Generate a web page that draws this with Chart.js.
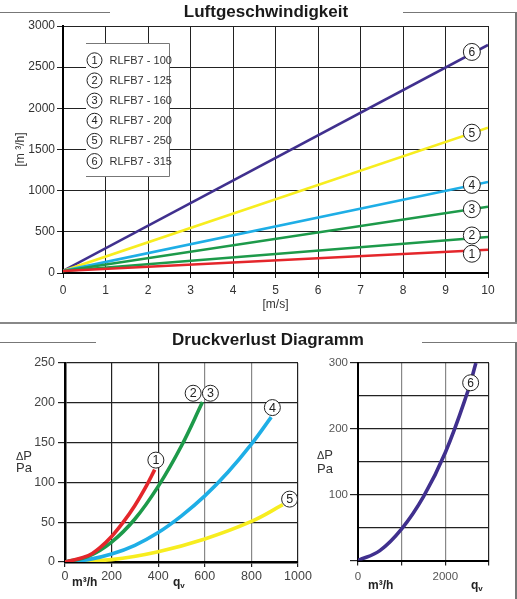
<!DOCTYPE html>
<html><head><meta charset="utf-8">
<script src="https://cdn.jsdelivr.net/npm/chart.js@4.4.0/dist/chart.umd.min.js"></script>
<style>
html,body{margin:0;padding:0;background:#fff;}
#wrap{position:relative;width:517px;height:599px;overflow:hidden;font-family:"Liberation Sans",Arial,sans-serif;}
canvas{position:absolute;}
.t{position:absolute;white-space:nowrap;}
.title{font-weight:bold;font-size:17px;color:#1a1a1a;text-align:center;width:300px;height:24px;line-height:24px;}
.ln{position:absolute;background:#777;}
.lab{font-size:13px;color:#333;text-align:right;}
.unit{font-weight:bold;font-size:12px;color:#222;line-height:14px;}
</style></head>
<body><div id="wrap">
<canvas id="c1" width="517" height="330" style="left:0;top:0"></canvas>
<canvas id="c2" width="330" height="269" style="left:0;top:330px"></canvas>
<canvas id="c3" width="217" height="269" style="left:300px;top:330px"></canvas>

<div class="ln" style="left:0;top:12px;width:110px;height:1px"></div>
<div class="ln" style="left:403px;top:12px;width:114px;height:1px"></div>
<div class="ln" style="left:515px;top:12px;width:1.5px;height:311px"></div>
<div class="ln" style="left:0;top:322px;width:517px;height:2px;background:#888"></div>
<div class="ln" style="left:0;top:342px;width:96px;height:1px"></div>
<div class="ln" style="left:422px;top:342px;width:95px;height:1px"></div>
<div class="ln" style="left:515px;top:342px;width:1.5px;height:257px"></div>

<div class="t title" style="left:116px;top:0">Luftgeschwindigkeit</div>
<div class="t title" style="left:118px;top:328px">Druckverlust Diagramm</div>

<div class="t lab" style="left:0;top:450px;width:32px;line-height:12px"><span style="font-size:11px">Δ</span>P<br>Pa</div>
<div class="t lab" style="left:283px;top:448px;width:50px;line-height:13px"><span style="font-size:11px">Δ</span>P<br>Pa</div>
<div class="t unit" style="left:72px;top:575px">m³/h</div>
<div class="t unit" style="left:173px;top:575px">q<sub style="font-size:8px;vertical-align:-2px">v</sub></div>
<div class="t unit" style="left:368px;top:578px">m³/h</div>
<div class="t unit" style="left:471px;top:578px">q<sub style="font-size:8px;vertical-align:-2px">v</sub></div>
</div>
<script>
// ---------- Data: Luftgeschwindigkeit ----------
const velocity = [0, 10];
const flowRLFB7_100 = [25, 282];
const flowRLFB7_125 = [25, 438];
const flowRLFB7_160 = [25, 805];
const flowRLFB7_200 = [25, 1105];
const flowRLFB7_250 = [25, 1765];
const flowRLFB7_315 = [25, 2770];
const seriesNames = ['RLFB7 - 100', 'RLFB7 - 125', 'RLFB7 - 160', 'RLFB7 - 200', 'RLFB7 - 250', 'RLFB7 - 315'];
const seriesNumbers = ['1', '2', '3', '4', '5', '6'];
const velocityTickLabels = ['0', '1', '2', '3', '4', '5', '6', '7', '8', '9', '10'];
const flowTickLabels = ['0', '500', '1000', '1500', '2000', '2500', '3000'];
const labelVelocity = [9.62, 9.62, 9.62, 9.62, 9.62, 9.62];
const labelFlow = [234, 456, 775, 1070, 1704, 2685];

// ---------- Data: Druckverlust (left) ----------
const q1 = [0, 100, 150, 200, 250, 300, 350, 385];
const dp1 = [0, 8, 18, 32, 50, 71, 96, 116];
const q23 = [0, 100, 200, 300, 400, 500, 590];
const dp23 = [0, 7, 25, 54, 95, 146, 201];
const q4 = [0, 100, 200, 300, 400, 500, 600, 700, 800, 885];
const dp4 = [0, 3, 10, 21, 37, 58, 83, 113, 148, 182];
const q5 = [0, 200, 400, 600, 800, 935];
const dp5 = [0, 3, 13, 29, 51, 72];
const leftXTickLabels = ['0', '200', '400', '600', '800', '1000'];
const leftYTickLabels = ['0', '50', '100', '150', '200', '250'];
const leftLabelQ = [390, 550, 624, 890, 964];
const leftLabelDp = [128, 212, 212, 194, 79];
const leftLabelText = ['1', '2', '3', '4', '5'];

// ---------- Data: Druckverlust (right) ----------
const q6 = [0, 500, 1000, 1500, 2000, 2500, 2700];
const dp6 = [0, 15, 48, 97, 164, 254, 300];
const rightXTickLabels = ['0', '', '2000', ''];
const rightYTickLabels = ['', '', '100', '', '200', '', '300'];
const rightLabelQ = [2580];
const rightLabelDp = [270];
const rightLabelText = ['6'];

// ---------- Styles ----------
const FONT = '"Liberation Sans", Arial, sans-serif';
const NARROW = '"Liberation Sans Narrow", "Liberation Sans", Arial, sans-serif';
const cRed = '#e4262b', cGreen = '#1d9a4a', cBlue = '#1eaee6', cYellow = '#f7ed1f', cPurple = '#40308e';
const topColors = [cRed, cGreen, cGreen, cBlue, cYellow, cPurple];

const pts = (xs, ys) => xs.map((x, i) => ({x: x, y: ys[i]}));

function circleLabelsPlugin(xs, ys, texts, radius, fontSize) {
  return {
    id: 'circleLabels',
    afterDatasetsDraw(chart) {
      const ctx = chart.ctx, sx = chart.scales.x, sy = chart.scales.y;
      texts.forEach((t, i) => {
        const px = sx.getPixelForValue(xs[i]), py = sy.getPixelForValue(ys[i]);
        ctx.save();
        ctx.beginPath(); ctx.arc(px, py, radius, 0, Math.PI * 2);
        ctx.fillStyle = '#fff'; ctx.fill();
        ctx.lineWidth = 1; ctx.strokeStyle = '#222'; ctx.stroke();
        ctx.fillStyle = '#222'; ctx.font = fontSize + 'px ' + FONT;
        ctx.textAlign = 'center'; ctx.textBaseline = 'middle';
        ctx.fillText(t, px, py + 0.5);
        ctx.restore();
      });
    }
  };
}

const legendPlugin = {
  id: 'boxLegend',
  afterDatasetsDraw(chart) {
    const ctx = chart.ctx;
    const x0 = 86, x1 = 169, y0 = 43, y1 = 176;
    ctx.save();
    ctx.fillStyle = '#fff'; ctx.fillRect(x0, y0, x1 - x0, y1 - y0);
    ctx.strokeStyle = '#777'; ctx.lineWidth = 1;
    ctx.beginPath(); ctx.moveTo(x0, y0 + 0.5); ctx.lineTo(x1 + 0.5, y0 + 0.5); ctx.lineTo(x1 + 0.5, y1 + 0.5); ctx.lineTo(x0, y1 + 0.5); ctx.stroke();
    chart.data.datasets.forEach((ds, i) => {
      const cy = 60.3 + 20.15 * i;
      ctx.beginPath(); ctx.arc(94.5, cy, 7.5, 0, Math.PI * 2);
      ctx.strokeStyle = '#222'; ctx.stroke();
      ctx.fillStyle = '#222'; ctx.font = '11px ' + FONT; ctx.textAlign = 'center'; ctx.textBaseline = 'middle';
      ctx.fillText(seriesNumbers[i], 94.5, cy + 0.5);
      ctx.textAlign = 'left'; ctx.fillStyle = '#333'; ctx.font = '11px ' + NARROW;
      ctx.fillText(ds.label, 109.5, cy + 0.5);
    });
    ctx.restore();
  }
};

// ---------- Chart 1 ----------
const topSeries = [flowRLFB7_100, flowRLFB7_125, flowRLFB7_160, flowRLFB7_200, flowRLFB7_250, flowRLFB7_315];
new Chart(document.getElementById('c1'), {
  type: 'line',
  data: {
    datasets: topSeries.map((vals, i) => ({
      label: seriesNames[i], data: pts(velocity, vals),
      borderColor: topColors[i], borderWidth: 2.6, pointRadius: 0, fill: false, tension: 0
    }))
  },
  options: {
    responsive: false, animation: false, devicePixelRatio: 1,
    layout: {padding: {top: 26, right: 29, left: 0, bottom: 0}},
    plugins: {legend: {display: false}, tooltip: {enabled: false}},
    scales: {
      x: {
        type: 'linear', min: 0, max: 10,
        ticks: {stepSize: 1, padding: 5, color: '#333', font: {family: FONT, size: 12}, maxRotation: 0,
                callback: (v, i) => velocityTickLabels[i]},
        grid: {color: '#222', lineWidth: 1, tickLength: 5, tickColor: '#222'},
        border: {color: '#000', width: 2},
        title: {display: true, text: '[m/s]', color: '#333', font: {family: FONT, size: 12}, padding: {top: 0, bottom: 18}},
        afterFit(s) { s.height = 57; }
      },
      y: {
        type: 'linear', min: 0, max: 3000,
        ticks: {stepSize: 500, padding: 2, color: '#333', font: {family: FONT, size: 12},
                callback: (v, i) => flowTickLabels[i]},
        grid: {color: '#222', lineWidth: 1, tickLength: 6, tickColor: '#222'},
        border: {color: '#000', width: 2},
        title: {display: true, text: '[m ³/h]', color: '#333', font: {family: FONT, size: 12}, padding: {top: 13, bottom: 0}},
        afterFit(s) { s.width = 63; }
      }
    }
  },
  plugins: [legendPlugin, circleLabelsPlugin(labelVelocity, labelFlow, seriesNumbers, 8.5, 12)]
});

// ---------- Chart 2 ----------
new Chart(document.getElementById('c2'), {
  type: 'line',
  data: {
    datasets: [
      {label: '1', data: pts(q1, dp1), borderColor: cRed},
      {label: '2/3', data: pts(q23, dp23), borderColor: cGreen},
      {label: '4', data: pts(q4, dp4), borderColor: cBlue},
      {label: '5', data: pts(q5, dp5), borderColor: cYellow}
    ].map(d => Object.assign(d, {borderWidth: 3.6, pointRadius: 0, fill: false, tension: 0.4}))
  },
  options: {
    responsive: false, animation: false, devicePixelRatio: 1,
    layout: {padding: {top: 33, right: 32, left: 0, bottom: 0}},
    plugins: {legend: {display: false}, tooltip: {enabled: false}},
    scales: {
      x: {
        type: 'linear', min: 0, max: 1000,
        ticks: {stepSize: 200, padding: 2, color: '#444', font: {family: FONT, size: 12.5}, maxRotation: 0,
                callback: (v, i) => leftXTickLabels[i]},
        grid: {color: c => (c.tick && c.tick.value >= 600 && c.tick.value < 1000) ? '#888' : '#222', lineWidth: 1.2, tickLength: 5, tickColor: '#222'},
        border: {color: '#000', width: 2.5},
        afterFit(s) { s.height = 37; }
      },
      y: {
        type: 'linear', min: 0, max: 250,
        ticks: {stepSize: 50, padding: 3, color: '#444', font: {family: FONT, size: 12.5},
                callback: (v, i) => leftYTickLabels[i]},
        grid: {color: '#222', lineWidth: 1.2, tickLength: 7, tickColor: '#222'},
        border: {color: '#000', width: 2.5},
        afterFit(s) { s.width = 65; }
      }
    }
  },
  plugins: [circleLabelsPlugin(leftLabelQ, leftLabelDp, leftLabelText, 8, 12.5)]
});

// ---------- Chart 3 ----------
new Chart(document.getElementById('c3'), {
  type: 'line',
  data: {
    datasets: [{label: '6', data: pts(q6, dp6), borderColor: cPurple, borderWidth: 3.6, pointRadius: 0, fill: false, tension: 0.4}]
  },
  options: {
    responsive: false, animation: false, devicePixelRatio: 1,
    layout: {padding: {top: 33, right: 28, left: 0, bottom: 0}},
    plugins: {legend: {display: false}, tooltip: {enabled: false}},
    scales: {
      x: {
        type: 'linear', min: 0, max: 3000,
        ticks: {stepSize: 1000, padding: 4, color: '#555', font: {family: FONT, size: 11.5}, maxRotation: 0,
                callback: (v, i) => rightXTickLabels[i]},
        grid: {color: c => (c.tick && c.tick.value > 0 && c.tick.value < 3000) ? '#888' : '#222', lineWidth: 1.2, tickLength: 5, tickColor: '#222'},
        border: {color: '#000', width: 2},
        afterFit(s) { s.height = 38.5; }
      },
      y: {
        type: 'linear', min: 0, max: 300,
        ticks: {stepSize: 50, padding: 2, color: '#555', font: {family: FONT, size: 11.5},
                callback: (v, i) => rightYTickLabels[i]},
        grid: {color: '#222', lineWidth: 1.2, tickLength: 8,
               tickColor: c => (c.tick && c.tick.value % 100 === 0) ? '#222' : 'rgba(0,0,0,0)'},
        border: {color: '#000', width: 2},
        afterFit(s) { s.width = 58; }
      }
    }
  },
  plugins: [circleLabelsPlugin(rightLabelQ, rightLabelDp, rightLabelText, 8, 12)]
});
</script>
</body></html>
